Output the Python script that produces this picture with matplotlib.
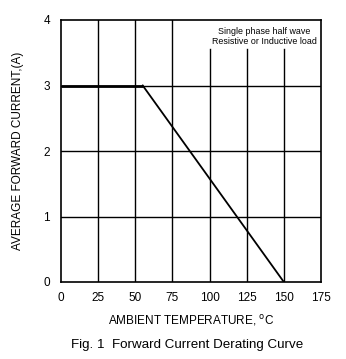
import matplotlib.pyplot as plt

# derating curve
temp = [0, 55, 150]
current = [3, 3, 0]

x_ticks = [0, 25, 50, 75, 100, 125, 150, 175]
y_ticks = [0, 1, 2, 3, 4]

plt.rcParams['font.family'] = ['Liberation Sans', 'DejaVu Sans']

fig = plt.figure(figsize=(3.46, 3.59), dpi=100)
ax = fig.add_axes([61 / 346, 1 - 282 / 359, 260 / 346, 262 / 359])

ax.set_xlim(0, 175)
ax.set_ylim(0, 4)

# grid, the right-hand columns stop below the note
for x in x_ticks[1:-1]:
    top = 3.55 if x >= 100 else 4
    ax.plot([x, x], [0, top], color='black', lw=1.0)
for y in y_ticks[1:-1]:
    ax.plot([0, 175], [y, y], color='black', lw=1.0)

ax.plot(temp[:2], current[:2], color='black', lw=2.0, solid_capstyle='butt')
ax.plot(temp[1:], current[1:], color='black', lw=1.3)

for s in ax.spines.values():
    s.set_color('black')
    s.set_linewidth(1.2)

ax.set_xticks(x_ticks)
ax.set_yticks(y_ticks)
ax.tick_params(axis='x', length=0, labelsize=8.5, pad=7)
ax.tick_params(axis='y', length=0, labelsize=8.5, pad=8)

ax.text(137, 3.83, "Single phase half wave", ha='center', va='center', fontsize=6.4)
ax.text(137, 3.67, "Resistive or Inductive load", ha='center', va='center', fontsize=6.4)

ax.set_xlabel("AMBIENT TEMPERATURE, $^{\\rm o}$C", fontsize=8.5, labelpad=7)
ax.set_ylabel("AVERAGE FORWARD CURRENT,(A)", fontsize=8.5, labelpad=14)

fig.text(187 / 346, 1 - 345 / 359, "Fig. 1  Forward Current Derating Curve", ha='center', va='center', fontsize=9.6)

fig.savefig("out.png", dpi=100)
